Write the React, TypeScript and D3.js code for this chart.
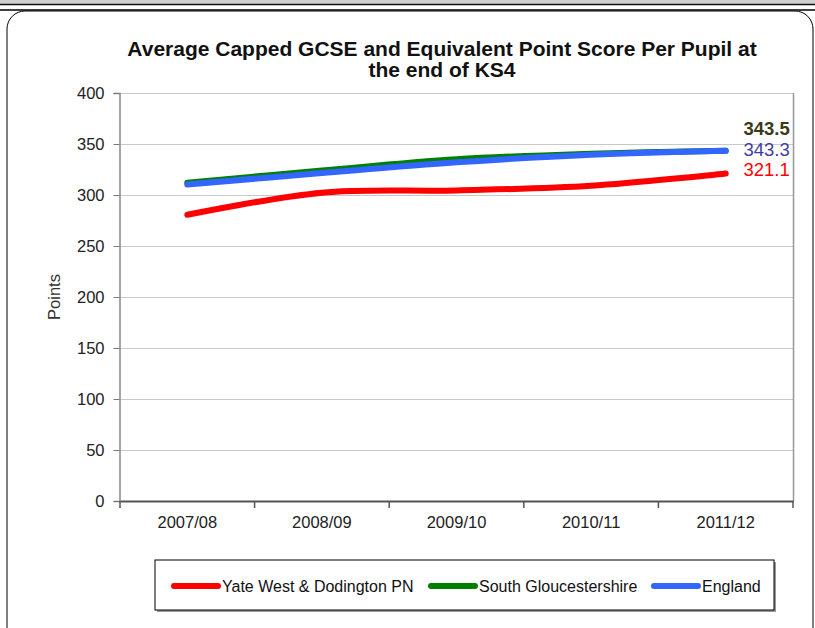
import * as d3 from 'd3';
import React, { useEffect, useRef } from 'react';

const years = ['2007/08', '2008/09', '2009/10', '2010/11', '2011/12'];
const yateWest = [280.6, 302.3, 304.5, 309.0, 321.1];
const southGlos = [312.0, 324.0, 335.0, 340.5, 343.5];
const england = [310.3, 321.5, 332.0, 339.5, 343.3];
const yTicks = [0, 50, 100, 150, 200, 250, 300, 350, 400];

interface Series {
    name: string;
    values: number[];
    color: string;
    labelColor: string;
    labelDy: number;
    bold: boolean;
}

const series: Series[] = [
    { name: 'South Gloucestershire', values: southGlos, color: '#008000', labelColor: '#3a3a18', labelDy: -16, bold: true },
    { name: 'England', values: england, color: '#3366ff', labelColor: '#4040a0', labelDy: 5, bold: false },
    { name: 'Yate West & Dodington PN', values: yateWest, color: '#ff0000', labelColor: '#ff0000', labelDy: 3, bold: false },
];
const legendOrder = ['Yate West & Dodington PN', 'South Gloucestershire', 'England'];

const App: React.FC = () => {
    const svgRef = useRef<SVGSVGElement>(null);

    useEffect(() => {
        if (!svgRef.current) return;
        d3.select(svgRef.current).selectAll('*').remove();

        const width = 815;
        const height = 628;
        const plot = { left: 120, right: 793, top: 93, bottom: 501 };
        const font = 'Arial, "Liberation Sans", sans-serif';

        const svg = d3.select(svgRef.current)
            .attr('width', width)
            .attr('height', height);

        svg.append('rect').attr('width', width).attr('height', height).attr('fill', '#fff');

        // page strip above the chart
        svg.append('rect').attr('x', 0).attr('y', 0).attr('width', width).attr('height', 4).attr('fill', '#cfcfcf');
        svg.append('line').attr('x1', 0).attr('x2', width).attr('y1', 4.5).attr('y2', 4.5)
            .attr('stroke', '#111').attr('stroke-width', 1.5);
        svg.append('line').attr('x1', 0).attr('x2', width).attr('y1', 10).attr('y2', 10)
            .attr('stroke', '#000').attr('stroke-width', 1.5);

        // chart frame
        svg.append('rect')
            .attr('x', 7).attr('y', 11).attr('width', 806).attr('height', 640).attr('rx', 18)
            .attr('fill', 'none').attr('stroke', '#000').attr('stroke-width', 1);

        const x = d3.scaleBand().domain(years).range([plot.left, plot.right]);
        const y = d3.scaleLinear().domain([0, 400]).range([plot.bottom, plot.top]);
        const cx = (d: string) => (x(d) ?? 0) + x.bandwidth() / 2;

        // gridlines
        svg.append('g')
            .selectAll('line')
            .data(yTicks.filter(t => t > 0))
            .join('line')
            .attr('x1', plot.left).attr('x2', plot.right)
            .attr('y1', d => Math.round(y(d)) + 0.5).attr('y2', d => Math.round(y(d)) + 0.5)
            .attr('stroke', '#c8c8c8').attr('stroke-width', 1.2);

        // plot right border
        svg.append('line')
            .attr('x1', plot.right + 0.5).attr('x2', plot.right + 0.5)
            .attr('y1', plot.top).attr('y2', plot.bottom)
            .attr('stroke', '#999').attr('stroke-width', 1.5);

        // y axis
        const yAxis = svg.append('g')
            .attr('transform', `translate(${plot.left - 0.5},0)`)
            .call(d3.axisLeft(y).tickValues(yTicks).tickSize(6).tickPadding(9));
        yAxis.select('.domain').attr('stroke', '#888').attr('stroke-width', 1.5);
        yAxis.selectAll('.tick line').attr('stroke', '#777');
        yAxis.selectAll('.tick text')
            .attr('font-family', font).attr('font-size', 16.5).attr('fill', '#222');

        // x axis
        const xAxis = svg.append('g')
            .attr('transform', `translate(0,${plot.bottom})`)
            .call(d3.axisBottom(x).tickSize(0).tickPadding(15));
        xAxis.select('.domain').attr('stroke', '#555').attr('stroke-width', 2);
        xAxis.selectAll('.tick text')
            .attr('font-family', font).attr('font-size', 16.5).attr('fill', '#222');
        xAxis.selectAll('.boundary')
            .data(years.map(d => x(d) ?? 0).concat([plot.right]))
            .join('line')
            .attr('class', 'boundary')
            .attr('x1', d => d).attr('x2', d => d)
            .attr('y1', 0).attr('y2', 7)
            .attr('stroke', '#555').attr('stroke-width', 1.5);

        // axis title
        svg.append('text')
            .attr('transform', `translate(60,${(plot.top + plot.bottom) / 2}) rotate(-90)`)
            .attr('text-anchor', 'middle')
            .attr('font-family', font).attr('font-size', 16.5).attr('fill', '#333')
            .text('Points');

        // chart title
        const title = svg.append('text')
            .attr('text-anchor', 'middle')
            .attr('font-family', font).attr('font-size', 21).attr('font-weight', 'bold').attr('fill', '#111');
        title.append('tspan').attr('x', 442).attr('y', 56).text('Average Capped GCSE and Equivalent Point Score Per Pupil at');
        title.append('tspan').attr('x', 442).attr('y', 77).text('the end of KS4');

        // lines
        const line = d3.line<number>()
            .x((_, i) => cx(years[i]))
            .y(d => y(d))
            .curve(d3.curveCardinal.tension(0));

        series.forEach(s => {
            svg.append('path')
                .datum(s.values)
                .attr('d', line)
                .attr('fill', 'none')
                .attr('stroke', s.color)
                .attr('stroke-width', 6)
                .attr('stroke-linecap', 'round')
                .attr('stroke-linejoin', 'round');
        });

        // end labels
        const lastYear = years[years.length - 1];
        series.forEach(s => {
            const v = s.values[s.values.length - 1];
            svg.append('text')
                .attr('x', cx(lastYear) + 64)
                .attr('y', y(v) + s.labelDy)
                .attr('text-anchor', 'end')
                .attr('font-family', font)
                .attr('font-size', 18.5)
                .attr('font-weight', s.bold ? 'bold' : 'normal')
                .attr('fill', s.labelColor)
                .text(v.toFixed(1));
        });

        // legend
        const legend = { x: 155, y: 560, w: 619, h: 50 };
        svg.append('rect')
            .attr('x', legend.x + 2).attr('y', legend.y + 2).attr('width', legend.w).attr('height', legend.h)
            .attr('fill', '#999');
        svg.append('rect')
            .attr('x', legend.x).attr('y', legend.y).attr('width', legend.w).attr('height', legend.h)
            .attr('fill', '#fff').attr('stroke', '#000').attr('stroke-width', 1);

        const legendX = [174, 431, 654];
        legendOrder.forEach((name, i) => {
            const s = series.find(d => d.name === name)!;
            const lx = legendX[i];
            const ly = legend.y + 26;
            svg.append('line')
                .attr('x1', lx).attr('x2', lx + 44).attr('y1', ly).attr('y2', ly)
                .attr('stroke', s.color).attr('stroke-width', 6).attr('stroke-linecap', 'round');
            svg.append('text')
                .attr('x', lx + 48).attr('y', ly + 6)
                .attr('font-family', font).attr('font-size', 16).attr('fill', '#111')
                .text(name);
        });
    }, []);

    return (
        <div style={{ position: 'absolute', left: 0, top: 0 }}>
            <svg ref={svgRef} style={{ display: 'block' }}></svg>
        </div>
    );
};

export default App;
